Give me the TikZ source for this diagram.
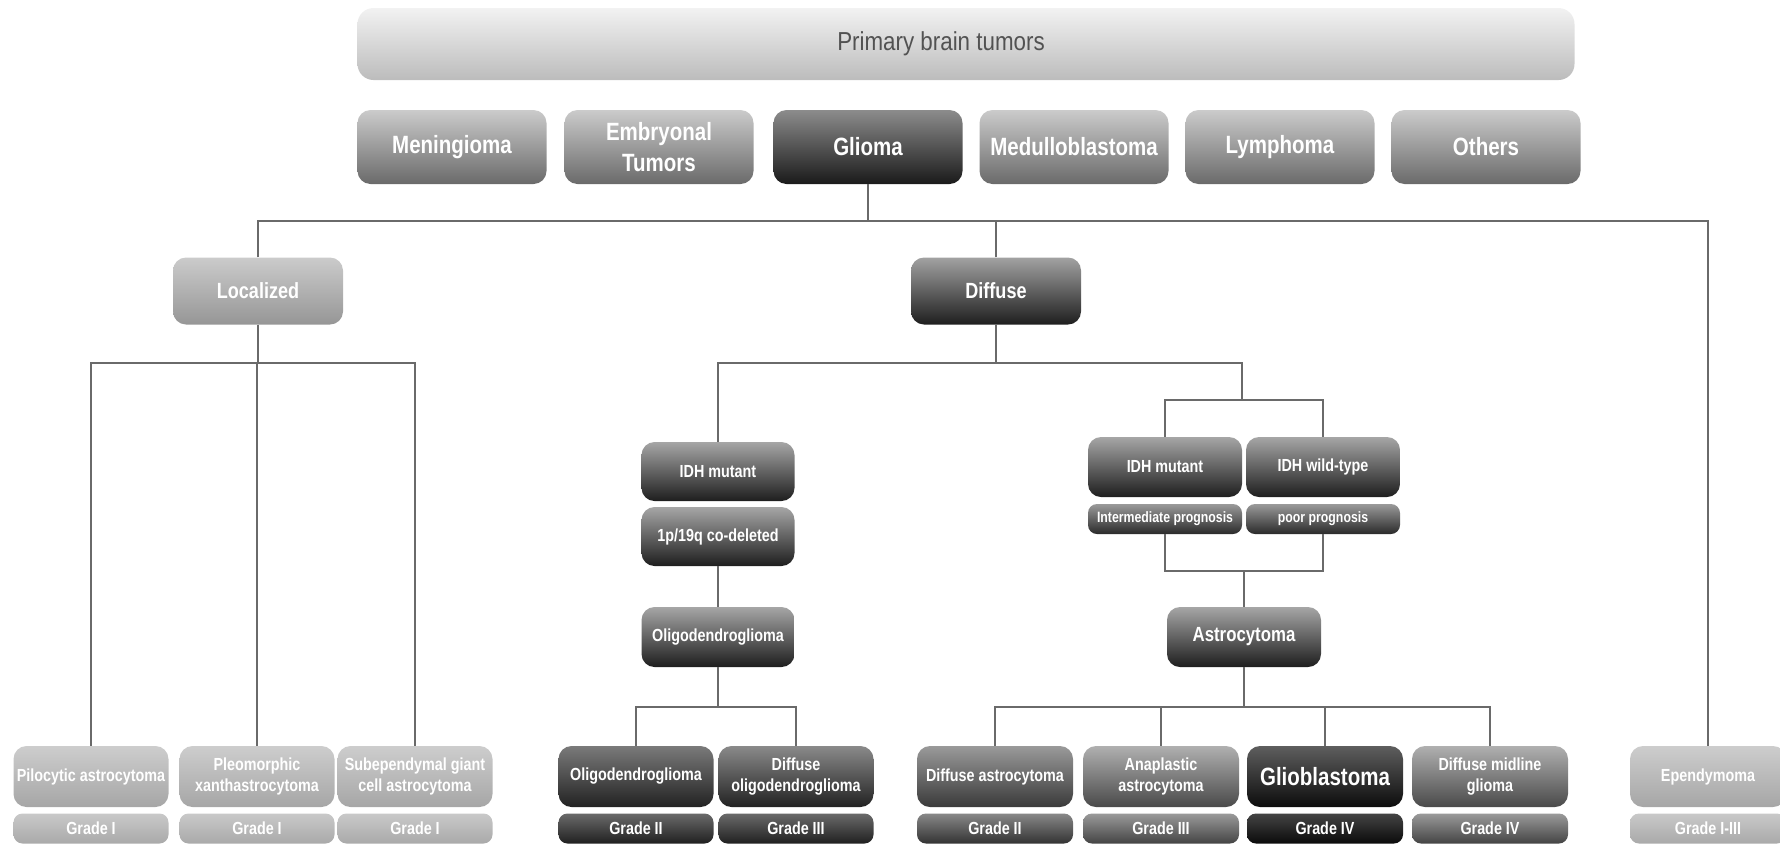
\documentclass[tikz,border=0pt]{standalone}
\usepackage{fontspec}
\newfontfamily\cond[FakeStretch=0.82]{Liberation Sans}
\newfontfamily\plainsans[FakeStretch=0.86]{Liberation Sans}
\definecolor{linegray}{HTML}{6A6A6A}
\begin{document}
\begin{tikzpicture}[x=1pt,y=-1pt,
  bx/.style={rounded corners=13pt, inner sep=0pt, align=center, text=white,
    font=\cond\bfseries\fontsize{17.5}{21.5}\selectfont},
  gr/.style={bx, rounded corners=9pt, minimum height=30pt},
  sh/.style 2 args={top color=#1, bottom color=#2},
  conn/.style={draw=linegray, line width=2pt},
]
\useasboundingbox (0,0) rectangle (1780,844);
\clip (0,0) rectangle (1780,844);
\definecolor{cA}{HTML}{F2F2F2}\definecolor{cB}{HTML}{BCBCBC}
% top box
\node[bx, sh={cA}{cB}, rounded corners=16pt, minimum width=1217pt, minimum height=72pt,
  text={black!68}, font=\plainsans\fontsize{26}{30}\selectfont] (top) at (966,44) {\hspace{-50pt}Primary brain tumors};
% row 2
\definecolor{lt1}{HTML}{CBCBCB}\definecolor{lt2}{HTML}{6A6A6A}
\definecolor{dk1}{HTML}{8C8C8C}\definecolor{dk2}{HTML}{1A1A1A}
\tikzset{r2/.style={bx, minimum width=189pt, minimum height=74pt, font=\cond\bfseries\fontsize{25}{31}\selectfont}}
\node[r2, sh={lt1}{lt2}] (men) at (452,147) {Meningioma};
\node[r2, sh={lt1}{lt2}] (emb) at (659,147) {Embryonal\\Tumors};
\node[r2, sh={dk1}{dk2}] (gli) at (868,147) {Glioma};
\node[r2, sh={lt1}{lt2}] (med) at (1074,147) {Medulloblastoma};
\node[r2, sh={lt1}{lt2}] (lym) at (1280,147) {Lymphoma};
\node[r2, sh={lt1}{lt2}] (oth) at (1486,147) {Others};
% level 3
\definecolor{lo1}{HTML}{CBCBCB}\definecolor{lo2}{HTML}{969696}
\definecolor{df1}{HTML}{A2A2A2}\definecolor{df2}{HTML}{1E1E1E}
\tikzset{r3/.style={bx, minimum width=170pt, minimum height=67pt, font=\cond\bfseries\fontsize{22}{26}\selectfont}}
\node[r3, sh={lo1}{lo2}] (loc) at (258,291) {Localized};
\node[r3, sh={df1}{df2}] (dif) at (996,291) {Diffuse};
% localized children
\definecolor{pl1}{HTML}{CDCDCD}\definecolor{pl2}{HTML}{A6A6A6}
\definecolor{gl1}{HTML}{C9C9C9}\definecolor{gl2}{HTML}{A9A9A9}
\tikzset{bt/.style={bx, minimum height=61pt},
         w155/.style={minimum width=155pt}, w156/.style={minimum width=156pt}}
\node[bt, w155, sh={pl1}{pl2}] (pil) at (91,776.5) {Pilocytic astrocytoma};
\node[bt, w155, sh={pl1}{pl2}] (ple) at (257,776.5) {Pleomorphic\\xanthastrocytoma};
\node[bt, w155, sh={pl1}{pl2}] (sub) at (415,776.5) {Subependymal giant\\cell astrocytoma};
\node[gr, w155, sh={gl1}{gl2}] (gpil) at (91,828.5) {Grade I};
\node[gr, w155, sh={gl1}{gl2}] (gple) at (257,828.5) {Grade I};
\node[gr, w155, sh={gl1}{gl2}] (gsub) at (415,828.5) {Grade I};
% oligo branch
\definecolor{id1}{HTML}{A6A6A6}\definecolor{id2}{HTML}{1E1E1E}
\tikzset{mid/.style={bx, minimum width=153pt, minimum height=59pt}}
\node[mid, sh={id1}{id2}] (idh1) at (718,471.5) {IDH mutant};
\node[mid, sh={id1}{id2}] (codel) at (718,536.5) {1p/19q co-deleted};
\node[mid, sh={id1}{id2}, minimum height=60pt] (oli) at (718,637) {Oligodendroglioma};
\definecolor{ob1}{HTML}{7A7A7A}\definecolor{ob2}{HTML}{222222}
\definecolor{od1}{HTML}{8A8A8A}\definecolor{od2}{HTML}{222222}
\definecolor{og1}{HTML}{6A6A6A}\definecolor{og2}{HTML}{202020}
\node[bt, w155, sh={ob1}{ob2}] (oli2) at (636,776.5) {Oligodendroglioma};
\node[bt, w155, sh={od1}{od2}] (dol) at (796,776.5) {Diffuse\\oligodendroglioma};
\node[gr, w155, sh={og1}{og2}] (goli2) at (636,828.5) {Grade II};
\node[gr, w155, sh={og1}{og2}] (gdol) at (796,828.5) {Grade III};
% astro branch
\node[mid, sh={id1}{id2}, minimum width=154pt, minimum height=60pt] (idh2) at (1165,467) {IDH mutant};
\node[mid, sh={id1}{id2}, minimum width=154pt, minimum height=60pt] (wt) at (1323,467) {IDH wild-type};
\definecolor{pr1}{HTML}{9A9A9A}\definecolor{pr2}{HTML}{2A2A2A}
\node[gr, minimum width=154pt, sh={pr1}{pr2}, font=\cond\bfseries\fontsize{15}{18}\selectfont] (int) at (1165,519) {Intermediate prognosis};
\node[gr, minimum width=154pt, sh={pr1}{pr2}, font=\cond\bfseries\fontsize{15}{18}\selectfont] (poor) at (1323,519) {poor prognosis};
\node[mid, sh={id1}{id2}, minimum width=154pt, minimum height=60pt, font=\cond\bfseries\fontsize{20.5}{24}\selectfont] (ast) at (1244,637) {Astrocytoma};
\definecolor{da1}{HTML}{9A9A9A}\definecolor{da2}{HTML}{3A3A3A}
\definecolor{an1}{HTML}{B0B0B0}\definecolor{an2}{HTML}{4A4A4A}
\definecolor{gb1}{HTML}{5E5E5E}\definecolor{gb2}{HTML}{0C0C0C}
\definecolor{gd1}{HTML}{888888}\definecolor{gd2}{HTML}{333333}
\definecolor{ga1}{HTML}{9A9A9A}\definecolor{ga2}{HTML}{444444}
\definecolor{gg1}{HTML}{444444}\definecolor{gg2}{HTML}{0A0A0A}
\node[bt, w156, sh={da1}{da2}] (da) at (995,776.5) {Diffuse astrocytoma};
\node[bt, w156, sh={an1}{an2}] (ana) at (1161,776.5) {Anaplastic\\astrocytoma};
\node[bt, w156, sh={gb1}{gb2}, font=\cond\bfseries\fontsize{25}{30}\selectfont] (gbm) at (1325,776.5) {Glioblastoma};
\node[bt, w156, sh={an1}{an2}] (dmg) at (1490,776.5) {Diffuse midline\\glioma};
\node[gr, w156, sh={gd1}{gd2}] (gda) at (995,828.5) {Grade II};
\node[gr, w156, sh={ga1}{ga2}] (gana) at (1161,828.5) {Grade III};
\node[gr, w156, sh={gg1}{gg2}] (ggbm) at (1325,828.5) {Grade IV};
\node[gr, w156, sh={ga1}{ga2}] (gdmg) at (1490,828.5) {Grade IV};
% ependymoma
\node[bt, w156, sh={pl1}{pl2}] (epe) at (1708,776.5) {Ependymoma};
\node[gr, w156, sh={gl1}{gl2}] (gepe) at (1708,828.5) {Grade I-III};
% connectors
\coordinate (h1) at (0,221);
\draw[conn] (gli.south) -- (gli.south |- h1);
\draw[conn] (loc.north) -- (loc.north |- h1) -- (epe.north |- h1) -- (epe.north);
\draw[conn] (dif.north) -- (dif.north |- h1);
\coordinate (h2) at (0,363);
\draw[conn] (loc.south) -- (loc.south |- h2);
\draw[conn] (pil.north) -- (pil.north |- h2) -- (sub.north |- h2) -- (sub.north);
\draw[conn] (ple.north) -- (ple.north |- h2);
\draw[conn] (dif.south) -- (dif.south |- h2);
\coordinate (h3) at (1242,400);
\draw[conn] (idh1.north) -- (idh1.north |- h2) -- (h3 |- h2) -- (h3);
\draw[conn] (idh2.north) -- (idh2.north |- h3) -- (wt.north |- h3) -- (wt.north);
\draw[conn] (codel.south) -- (oli.north);
\coordinate (h4) at (0,707);
\draw[conn] (oli.south) -- (oli.south |- h4);
\draw[conn] (oli2.north) -- (oli2.north |- h4) -- (dol.north |- h4) -- (dol.north);
\coordinate (h5) at (0,571);
\draw[conn] (int.south) -- (int.south |- h5) -- (poor.south |- h5) -- (poor.south);
\draw[conn] (ast.north) -- (ast.north |- h5);
\draw[conn] (ast.south) -- (ast.south |- h4);
\draw[conn] (da.north) -- (da.north |- h4) -- (dmg.north |- h4) -- (dmg.north);
\draw[conn] (ana.north) -- (ana.north |- h4);
\draw[conn] (gbm.north) -- (gbm.north |- h4);
\end{tikzpicture}
\end{document}
